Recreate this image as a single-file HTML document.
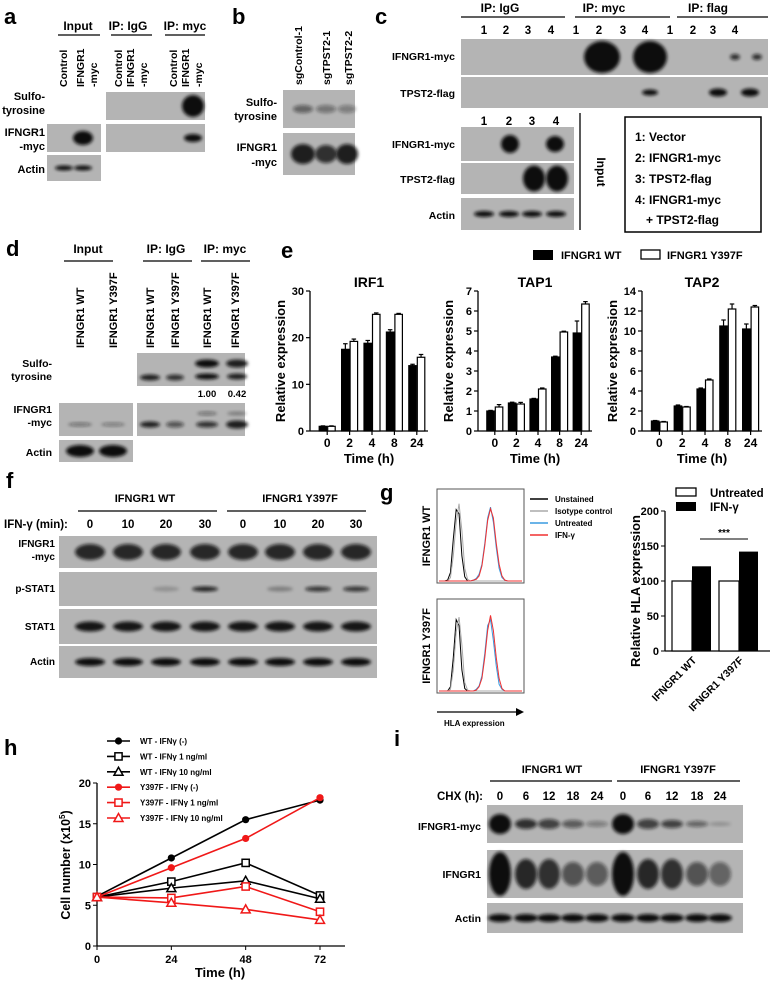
<!DOCTYPE html>
<html><head><meta charset="utf-8"><style>
body{margin:0;background:#fff}
svg{display:block;font-family:"Liberation Sans",Arial,sans-serif;font-weight:bold}
</style></head><body>
<svg id="fig" width="771" height="983" viewBox="0 0 771 983" xmlns="http://www.w3.org/2000/svg">
<defs><filter id="bl" x="-50%" y="-50%" width="200%" height="200%"><feGaussianBlur stdDeviation="1.6"/></filter></defs>
<g id="static" font-size="11">
<text x="4" y="24" font-size="22">a</text>
<text x="232" y="24" font-size="22">b</text>
<text x="375" y="24" font-size="22">c</text>
<text x="6" y="256" font-size="22">d</text>
<text x="281" y="258" font-size="22">e</text>
<text x="6" y="488" font-size="22">f</text>
<text x="380" y="500" font-size="22">g</text>
<text x="4" y="755" font-size="22">h</text>
<text x="394" y="746" font-size="22">i</text>

<g font-size="12" text-anchor="middle">
<text x="78" y="30">Input</text><text x="128" y="30">IP: IgG</text><text x="185" y="30">IP: myc</text>
</g>
<g stroke="#000" stroke-width="1.3"><line x1="58" y1="35" x2="100" y2="35"/><line x1="111" y1="35" x2="152" y2="35"/><line x1="165" y1="35" x2="205" y2="35"/></g>
<g font-size="10.5" id="a-cols"></g>
<g font-size="11" text-anchor="end">
<text x="45" y="100">Sulfo-</text><text x="45" y="114">tyrosine</text>
<text x="45" y="136">IFNGR1</text><text x="45" y="150">-myc</text>
<text x="45" y="173">Actin</text>
<text x="277" y="106">Sulfo-</text><text x="277" y="120">tyrosine</text>
<text x="277" y="151">IFNGR1</text><text x="277" y="166">-myc</text>
</g>
<g font-size="12" text-anchor="middle">
<text x="500" y="12">IP: IgG</text><text x="604" y="12">IP: myc</text><text x="708" y="12">IP: flag</text>
</g>
<g stroke="#000" stroke-width="1.3"><line x1="461" y1="17" x2="565" y2="17"/><line x1="575" y1="17" x2="670" y2="17"/><line x1="677" y1="17" x2="768" y2="17"/></g>
<g font-size="11.5" text-anchor="middle" id="c-nums"></g>
<g font-size="10.5" text-anchor="end">
<text x="455" y="60">IFNGR1-myc</text><text x="455" y="97">TPST2-flag</text>
<text x="455" y="148">IFNGR1-myc</text><text x="455" y="183">TPST2-flag</text><text x="455" y="219">Actin</text>
</g>
<line x1="580" y1="113" x2="580" y2="230" stroke="#000" stroke-width="1.3"/>
<text transform="translate(597,172) rotate(90)" font-size="12" text-anchor="middle">Input</text>
<rect x="625" y="117" width="136" height="115" fill="none" stroke="#000" stroke-width="1.5"/>
<g font-size="12">
<text x="635" y="141">1: Vector</text><text x="635" y="162">2: IFNGR1-myc</text><text x="635" y="183">3: TPST2-flag</text><text x="635" y="204">4: IFNGR1-myc</text><text x="646" y="224">+ TPST2-flag</text>
</g>
<g font-size="12" text-anchor="middle">
<text x="88" y="253">Input</text><text x="166" y="253">IP: IgG</text><text x="225" y="253">IP: myc</text>
</g>
<g stroke="#000" stroke-width="1.3"><line x1="64" y1="261" x2="113" y2="261"/><line x1="143" y1="261" x2="192" y2="261"/><line x1="201" y1="261" x2="250" y2="261"/></g>
<g font-size="11" id="d-cols"></g>
<g font-size="10.5" text-anchor="end">
<text x="52" y="367">Sulfo-</text><text x="52" y="380">tyrosine</text>
<text x="52" y="413">IFNGR1</text><text x="52" y="426">-myc</text>
<text x="52" y="456">Actin</text>
</g>
<g font-size="9.5" text-anchor="middle"><text x="207" y="397">1.00</text><text x="237" y="397">0.42</text></g>
<g font-size="11" text-anchor="middle"><text x="145" y="502">IFNGR1 WT</text><text x="300" y="502">IFNGR1 Y397F</text></g>
<g stroke="#000" stroke-width="1.3"><line x1="78" y1="511" x2="217" y2="511"/><line x1="227" y1="511" x2="366" y2="511"/></g>
<text x="4" y="528" font-size="11.5">IFN-γ (min):</text>
<g font-size="11.5" text-anchor="middle" id="f-nums"></g>
<g font-size="10" text-anchor="end">
<text x="55" y="547">IFNGR1</text><text x="55" y="560">-myc</text><text x="55" y="592">p-STAT1</text><text x="55" y="630">STAT1</text><text x="55" y="665">Actin</text>
</g>
<g font-size="11" text-anchor="middle"><text x="552" y="773">IFNGR1 WT</text><text x="678" y="773">IFNGR1 Y397F</text></g>
<g stroke="#000" stroke-width="1.3"><line x1="490" y1="781" x2="612" y2="781"/><line x1="617" y1="781" x2="740" y2="781"/></g>
<text x="437" y="800" font-size="11.5">CHX (h):</text>
<g font-size="11.5" text-anchor="middle" id="i-nums"></g>
<g font-size="10.5" text-anchor="end">
<text x="481" y="830">IFNGR1-myc</text><text x="481" y="878">IFNGR1</text><text x="481" y="922">Actin</text>
</g>
</g>
<g id="blots"></g>
<g id="chart-e"></g>
<g id="chart-g"></g>
<g id="flow"></g>
<g id="chart-h"></g>
</svg>
<script>
const NS='http://www.w3.org/2000/svg';
function mk(tag,attrs,parent,txt){const e=document.createElementNS(NS,tag);for(const k in attrs)e.setAttribute(k,attrs[k]);if(txt!==undefined)e.textContent=txt;parent.appendChild(e);return e;}
const $=id=>document.getElementById(id);

function rotLabels(g,items,yBase){items.forEach(([x,lines])=>{lines.forEach((l,i)=>{mk('text',{transform:`translate(${x+4+i*13},${yBase}) rotate(-90)`,'text-anchor':'start'},g,l);});});}
rotLabels($('a-cols'),[[63,['Control']],[80,['IFNGR1','-myc']],[118,['Control']],[130,['IFNGR1','-myc']],[173,['Control']],[185,['IFNGR1','-myc']]],87);
rotLabels($('a-cols'),[[298,['sgControl-1']],[326,['sgTPST2-1']],[348,['sgTPST2-2']]],85);
rotLabels($('d-cols'),[[80,['IFNGR1 WT']],[113,['IFNGR1 Y397F']],[150,['IFNGR1 WT']],[175,['IFNGR1 Y397F']],[207,['IFNGR1 WT']],[235,['IFNGR1 Y397F']]],348);
[488,510,532,555,580,603,627,649,674,697,717,739].forEach((x,i)=>mk('text',{x:x-4,y:34},$('c-nums'),String(i%4+1)));
[484,509,532,556].forEach((x,i)=>mk('text',{x:x,y:125},$('c-nums'),String(i+1)));
const fl=[90,128,166,205,243,280,318,356];
['0','10','20','30','0','10','20','30'].forEach((s,i)=>mk('text',{x:fl[i],y:528},$('f-nums'),s));
const il=[500,526,549,573,597,623,648,672,697,720];
['0','6','12','18','24','0','6','12','18','24'].forEach((s,i)=>mk('text',{x:il[i],y:800},$('i-nums'),s));

const B=$('blots');
function blot(name,x,y,w,h,lanes,bh){const g=mk('g',{},B);
  
  
  mk('rect',{x:x,y:y,width:w,height:h,fill:'#b4b4b4'},g);
  lanes.forEach(([cx,op,bw,hh,dy])=>{if(op>0)mk('ellipse',{cx:cx,cy:y+h/2+(dy||0),rx:(bw||10),ry:(hh||bh||3),fill:'#111','fill-opacity':op,filter:'url(#bl)'},g);});}
blot('a-input-ifngr1',47,124,54,28,[[83,1,10,7]]);
blot('a-input-actin',47,155,54,26,[[64,1,9,2.5],[83,1,9,2.5]]);
blot('a-ip-sulfo',106,92,99,28,[[193,1,11,11]]);
blot('a-ip-ifngr1',106,124,99,28,[[193,1,9,4]]);
blot('b-sulfo',283,90,72,38,[[303,.5,10,4],[326,.4,10,4],[347,.35,9,4]]);
blot('b-ifngr1',283,133,72,42,[[303,.9,12,10],[326,.8,11,9],[347,.9,11,10]]);
blot('c-ip-ifngr1',461,39,307,36,[[602,1,18,16],[650,1,17,16],[735,.8,5,3],[757,.8,5,3]]);
blot('c-ip-tpst2',461,77,307,31,[[650,1,8,3],[718,1,9,4],[750,1,9,4]]);
blot('c-in-ifngr1',461,127,113,34,[[510,1,9,9],[555,1,9,8]]);
blot('c-in-tpst2',461,163,113,31,[[534,1,11,13],[557,1,11,13]]);
blot('c-in-actin',461,198,113,32,[[484,1,10,3],[509,1,10,3],[532,1,10,3],[556,1,10,3]]);
blot('d-ip-sulfo',137,353,108,33,[[150,.9,10,3,8],[175,.8,9,3,8],[207,1,12,4,-6],[237,.9,11,4,-6],[207,1,12,3,7],[237,.9,10,3,7]]);
blot('d-in-ifngr1',59,403,74,33,[[80,.4,12,2,5],[113,.35,12,2,5]]);
blot('d-ip-ifngr1',137,403,108,33,[[150,.9,10,3,5],[175,.6,9,3,5],[207,.8,11,3,5],[237,.9,11,4,5],[207,.4,10,2,-6],[237,.3,10,2,-6]]);
blot('d-in-actin',59,440,74,22,[[80,1,14,6],[113,1,14,6]]);
blot('f-ifngr1',59,536,318,32,fl.map(x=>[x,.85,15,8]));
blot('f-pstat1',59,572,318,34,fl.map((x,i)=>[x,[0,0,.2,.9,0,.3,.8,.8][i],13,2.5]));
blot('f-stat1',59,609,318,35,fl.map(x=>[x,.95,15,5]));
blot('f-actin',59,646,318,32,fl.map(x=>[x,1,15,4]));
blot('i-ifngr1-myc',487,805,256,38,il.map((x,i)=>[x,[1,.8,.7,.55,.35,1,.7,.7,.5,.2][i],11,[10,5,5,4,3,10,5,4,3,2][i]]));
blot('i-ifngr1',487,850,256,48,il.map((x,i)=>[x,[1,.85,.8,.6,.55,1,.85,.8,.6,.5][i],11,[22,15,15,12,12,22,15,15,12,12][i]]));
blot('i-actin',487,903,256,30,il.map(x=>[x,1,12,4]));

// ---------- Panel e ----------
const eCats=['0','2','4','8','24'];
const irf1WT=[1,17.5,18.8,21.2,14], irf1Y=[1,19.2,25,25,15.8];
const irf1ErrWT=[0.1,1.2,0.6,0.5,0.3], irf1ErrY=[0.1,0.5,0.3,0.2,0.6];
const tap1WT=[1,1.4,1.6,3.7,4.9], tap1Y=[1.2,1.35,2.1,4.95,6.35];
const tap1ErrWT=[0.03,0.04,0.03,0.04,0.6], tap1ErrY=[0.12,0.08,0.05,0.04,0.12];
const tap2WT=[1,2.5,4.2,10.5,10.2], tap2Y=[0.9,2.4,5.1,12.2,12.4];
const tap2ErrWT=[0.05,0.1,0.1,0.6,0.5], tap2ErrY=[0.05,0.05,0.1,0.5,0.15];
const irf1Ticks=[0,10,20,30], tap1Ticks=[0,1,2,3,4,5,6,7], tap2Ticks=[0,2,4,6,8,10,12,14];
function barPanel(g,name,title,x0,x1,y0,yTop,yMax,ticks,wt,y,ewt,ey){
  const sy=v=>y0-(v/yMax)*(y0-yTop);
  const gw=(x1-x0-6)/eCats.length;
  const gg=mk('g',{},g);
  
  
  mk('line',{x1:x0,y1:yTop,x2:x0,y2:y0,stroke:'#000','stroke-width':1.3},gg);
  mk('line',{x1:x0,y1:y0,x2:x1,y2:y0,stroke:'#000','stroke-width':1.3},gg);
  ticks.forEach(t=>{mk('line',{x1:x0-4,y1:sy(t),x2:x0,y2:sy(t),stroke:'#000','stroke-width':1.2},gg);
    mk('text',{x:x0-6,y:sy(t)+4,'font-size':11,'text-anchor':'end'},gg,String(t));});
  eCats.forEach((c,i)=>{const cx=x0+6+gw*(i+0.5);
    mk('line',{x1:cx,y1:y0,x2:cx,y2:y0+4,stroke:'#000','stroke-width':1.2},gg);
    mk('text',{x:cx,y:y0+16,'font-size':12,'text-anchor':'middle'},gg,c);
    [[wt[i],ewt[i],cx-8,'#000'],[y[i],ey[i],cx+0.5,'#fff']].forEach(([v,e,bx,f])=>{
      mk('line',{x1:bx+3.75,y1:sy(v),x2:bx+3.75,y2:sy(v+e),stroke:'#000','stroke-width':1.2},gg);
      mk('line',{x1:bx+1.5,y1:sy(v+e),x2:bx+6,y2:sy(v+e),stroke:'#000','stroke-width':1.2},gg);
      const r=mk('rect',{x:bx,y:sy(v),width:7.5,height:y0-sy(v),fill:f,stroke:'#000','stroke-width':1.2},gg);
      
      
    });});
  mk('text',{x:(x0+x1)/2,y:yTop-4,'font-size':14,'text-anchor':'middle'},gg,title);
  mk('text',{x:(x0+x1)/2,y:y0+32,'font-size':13,'text-anchor':'middle'},gg,'Time (h)');
  mk('text',{transform:`translate(${x0-25},${(y0+yTop)/2}) rotate(-90)`,'font-size':13,'text-anchor':'middle'},gg,'Relative expression');
}
const E=$('chart-e');
barPanel(E,'irf1-chart','IRF1',310,428,431,291,30,irf1Ticks,irf1WT,irf1Y,irf1ErrWT,irf1ErrY);
barPanel(E,'tap1-chart','TAP1',478,592,431,291,7,tap1Ticks,tap1WT,tap1Y,tap1ErrWT,tap1ErrY);
barPanel(E,'tap2-chart','TAP2',642,762,431,291,14,tap2Ticks,tap2WT,tap2Y,tap2ErrWT,tap2ErrY);
mk('rect',{x:533,y:250,width:20,height:10,fill:'#000'},E);
mk('text',{x:561,y:259,'font-size':11},E,'IFNGR1 WT');
mk('rect',{x:641,y:250,width:19,height:9,fill:'#fff',stroke:'#000','stroke-width':1.3},E);
mk('text',{x:667,y:259,'font-size':11},E,'IFNGR1 Y397F');

// ---------- Panel g bar ----------
const gCats=['IFNGR1 WT','IFNGR1 Y397F'];
const hlaUntreated=[100,100], hlaIFN=[121,142];
const hlaTicks=[0,50,100,150,200];
const G=$('chart-g');
(function(){const x0=665,x1=770,y0=651,yT=511,sy=v=>y0-v/200*(y0-yT);
 mk('line',{x1:x0,y1:yT,x2:x0,y2:y0,stroke:'#000','stroke-width':1.3},G);
 mk('line',{x1:x0,y1:y0,x2:x1,y2:y0,stroke:'#000','stroke-width':1.3},G);
 hlaTicks.forEach(t=>{mk('line',{x1:x0-4,y1:sy(t),x2:x0,y2:sy(t),stroke:'#000'},G);mk('text',{x:x0-6,y:sy(t)+4,'font-size':11,'text-anchor':'end'},G,String(t));});
 gCats.forEach((c,i)=>{const bx=x0+7+i*47;
  const r1=mk('rect',{x:bx,y:sy(hlaUntreated[i]),width:20,height:y0-sy(hlaUntreated[i]),fill:'#fff',stroke:'#000','stroke-width':1.2},G);
  
  
  const r2=mk('rect',{x:bx+20,y:sy(hlaIFN[i]),width:19,height:y0-sy(hlaIFN[i]),fill:'#000'},G);
  
  
  mk('text',{transform:`translate(${bx+25},${y0+10}) rotate(-45)`,'font-size':10.5,'text-anchor':'end'},G,c);
 });
 mk('line',{x1:700,y1:539,x2:748,y2:539,stroke:'#000'},G);
 mk('text',{x:724,y:536,'font-size':10,'text-anchor':'middle'},G,'***');
 mk('text',{transform:`translate(640,${(y0+yT)/2+10}) rotate(-90)`,'font-size':13,'text-anchor':'middle'},G,'Relative HLA expression');
 mk('rect',{x:676,y:488,width:20,height:8,fill:'#fff',stroke:'#000','stroke-width':1.3},G);
 mk('text',{x:710,y:497,'font-size':11.5},G,'Untreated');
 mk('rect',{x:676,y:502,width:20,height:9,fill:'#000'},G);
 mk('text',{x:710,y:511,'font-size':11.5},G,'IFN-γ');
})();

// ---------- Flow histograms ----------
const flowBins=[0,1,2,3,4,5,6,7,8,9,10,11,12,13,14,15,16,17,18,19,20,21,22,23,24,25,26,27,28,29];
const wtUnstained=[0,0,0,1,10,50,85,80,30,5,0,0,0,0,0,0,0,0,0,0,0,0,0,0,0,0,0,0,0,0];
const wtIsotype=[0,0,0,0,4,30,70,92,60,15,2,0,0,0,0,0,0,0,0,0,0,0,0,0,0,0,0,0,0,0];
const wtUntreated=[0,0,0,0,0,0,0,0,0,0,0,0,1,3,8,20,45,75,88,70,40,15,4,1,0,0,0,0,0,0];
const wtIFN=[0,0,0,0,0,0,0,0,0,0,0,0,1,2,6,18,42,72,86,75,45,20,6,1,0,0,0,0,0,0];
const mutUnstained=[0,0,0,0,5,40,85,78,25,3,0,0,0,0,0,0,0,0,0,0,0,0,0,0,0,0,0,0,0,0];
const mutIsotype=[0,0,0,0,2,25,70,88,55,10,1,0,0,0,0,0,0,0,0,0,0,0,0,0,0,0,0,0,0,0];
const mutUntreated=[0,0,0,0,0,0,0,0,0,0,0,0,0,2,6,18,45,78,85,60,30,8,2,0,0,0,0,0,0,0];
const mutIFN=[0,0,0,0,0,0,0,0,0,0,0,0,0,1,5,15,40,72,90,72,40,15,3,0,0,0,0,0,0,0];
const F=$('flow');
function flowBox(name,y,series,label){const x=437,w=87,h=94;
 const g=mk('g',{},F);
 
 
 mk('rect',{x:x,y:y,width:w,height:h,fill:'none',stroke:'#555','stroke-width':1},g);
 series.forEach(([d,c])=>{const pts=d.map((v,i)=>`${x+2+flowBins[i]/29*(w-4)},${y+h-2-v/100*(h-10)}`).join(' ');
  mk('polyline',{points:pts,fill:'none',stroke:c,'stroke-width':1},g);});
 mk('text',{transform:`translate(${x-7},${y+h/2}) rotate(-90)`,'font-size':11,'text-anchor':'middle'},g,label);
}
flowBox('flow-wt',489,[[wtUnstained,'#000'],[wtIsotype,'#aaa'],[wtUntreated,'#3a9be0'],[wtIFN,'#f03030']],'IFNGR1 WT');
flowBox('flow-y397f',599,[[mutUnstained,'#000'],[mutIsotype,'#aaa'],[mutUntreated,'#3a9be0'],[mutIFN,'#f03030']],'IFNGR1 Y397F');
mk('line',{x1:437,y1:712,x2:518,y2:712,stroke:'#000','stroke-width':1.3},F);
mk('polygon',{points:'516,708 524,712 516,716',fill:'#000'},F);
mk('text',{x:444,y:726,'font-size':8},F,'HLA expression');
[['Unstained','#000'],['Isotype control','#aaa'],['Untreated','#3a9be0'],['IFN-γ','#f03030']].forEach(([t,c],i)=>{
 mk('line',{x1:530,y1:499+i*12,x2:548,y2:499+i*12,stroke:c,'stroke-width':1.5},F);
 mk('text',{x:555,y:502+i*12,'font-size':8},F,t);});

// ---------- Panel h ----------
const hTimes=[0,24,48,72];
const wtNone=[6.1,10.8,15.5,17.9], wt1=[6,7.9,10.2,6.2], wt10=[6,7.1,8,5.8];
const yNone=[6,9.6,13.2,18.2], y1=[6,5.9,7.3,4.2], y10=[6,5.3,4.5,3.2];
const hYTicks=[0,5,10,15,20], hXTicks=[0,24,48,72];
const H=$('chart-h');
(function(){const x0=97,y0=946,sx=t=>x0+t/72*223,sy=v=>y0-v/20*(y0-783);
 mk('line',{x1:x0,y1:783,x2:x0,y2:y0,stroke:'#000','stroke-width':1.3},H);
 mk('line',{x1:x0,y1:y0,x2:345,y2:y0,stroke:'#000','stroke-width':1.3},H);
 hYTicks.forEach(t=>{mk('line',{x1:x0-4,y1:sy(t),x2:x0,y2:sy(t),stroke:'#000'},H);mk('text',{x:x0-6,y:sy(t)+4,'font-size':11,'text-anchor':'end'},H,String(t));});
 hXTicks.forEach(t=>{mk('line',{x1:sx(t),y1:y0,x2:sx(t),y2:y0+4,stroke:'#000'},H);mk('text',{x:sx(t),y:y0+17,'font-size':11,'text-anchor':'middle'},H,String(t));});
 mk('text',{x:220,y:977,'font-size':13,'text-anchor':'middle'},H,'Time (h)');
 const yl=mk('text',{transform:`translate(70,865) rotate(-90)`,'font-size':12.5,'text-anchor':'middle'},H,'Cell number (x10');
 mk('tspan',{'font-size':8,dy:-5},yl,'5');mk('tspan',{dy:5},yl,')');
 function marker(g,shape,x,y,c){if(shape==='dot')mk('circle',{cx:x,cy:y,r:3.6,fill:c},g);
  else if(shape==='sq')mk('rect',{x:x-3.6,y:y-3.6,width:7.2,height:7.2,fill:'#fff',stroke:c,'stroke-width':1.5},g);
  else mk('polygon',{points:`${x},${y-4.5} ${x-4.5},${y+3.5} ${x+4.5},${y+3.5}`,fill:'#fff',stroke:c,'stroke-width':1.5},g);}
 const series=[['WT - IFNγ (-)',wtNone,'#000','dot'],['WT - IFNγ 1 ng/ml',wt1,'#000','sq'],['WT - IFNγ 10 ng/ml',wt10,'#000','tri'],
  ['Y397F - IFNγ (-)',yNone,'#f01818','dot'],['Y397F - IFNγ 1 ng/ml',y1,'#f01818','sq'],['Y397F - IFNγ 10 ng/ml',y10,'#f01818','tri']];
 series.forEach(([lab,d,c,sh],k)=>{const g=mk('g',{},H);
  
  
  mk('polyline',{points:d.map((v,i)=>`${sx(hTimes[i])},${sy(v)}`).join(' '),fill:'none',stroke:c,'stroke-width':1.6},g);
  d.forEach((v,i)=>marker(g,sh,sx(hTimes[i]),sy(v),c));
  const ly=741+k*15.4;
  mk('line',{x1:107,y1:ly,x2:130,y2:ly,stroke:c,'stroke-width':1.6},g);
  marker(g,sh,118.5,ly,c);
  mk('text',{x:140,y:ly+3,'font-size':8},g,lab);
 });
})();
</script>
</body></html>
